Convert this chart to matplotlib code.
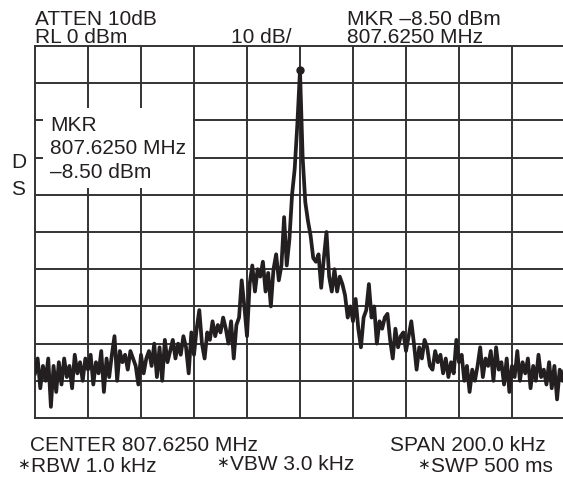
import matplotlib.pyplot as plt
import numpy as np

plt.rcParams['font.family'] = ['Liberation Sans', 'DejaVu Sans']

# Frequency offset from centre (kHz) and trace level (dBm)
freq_khz = np.arange(-100, 101, 1)
level_dbm = [
    -88, -84, -92, -86, -90, -84, -97, -86, -93, -85,   # -100 .. -91
    -91, -84, -89, -86, -92, -83, -88, -85, -90, -84,   # -90 .. -81
    -87, -83, -91, -85, -88, -82, -93, -84, -89, -83,   # -80 .. -71
    -78, -90, -82, -85, -83, -87, -82,                  # -70 .. -64
    -84, -86, -91, -83, -88, -84, -82, -86, -80, -89,   # -63 .. -54
    -81, -90, -79, -85,                                 # -53 .. -50
    -82, -79, -84, -80, -83, -78, -81, -88, -77, -83,   # -49 .. -40
    -76, -71, -80,                                      # -39 .. -37
    -84, -77, -79, -74, -78, -75, -77, -73, -76,        # -36 .. -28
    -80, -74, -84, -75, -73, -63, -70, -78,             # -27 .. -20
    -64, -59, -66, -60, -62, -58, -66, -61, -70, -60,   # -19 .. -10
    -56, -63, -59, -46, -59, -52, -40, -33, -21,        # -9 .. -1
    -6.5,                                               # 0 (marker)
    -30, -42, -47, -51, -57, -58, -56, -65, -57, -50,   # 1 .. 10
    -62, -66, -60, -66, -62, -64, -67, -73, -70, -74,   # 11 .. 20
    -68, -76, -81, -73, -71, -64, -73, -70, -80, -74,   # 21 .. 30
    -76, -73, -72, -79, -84, -76, -81, -78, -77, -82,   # 31 .. 40
    -78, -74, -80, -87, -81, -84, -79, -81, -86, -87,   # 41 .. 50
    -82, -85, -83, -88, -84, -89, -85, -88, -79, -85,   # 51 .. 60
    -83, -90, -86, -93, -87, -90, -86, -81, -89, -84,   # 61 .. 70
    -86, -82, -90, -81, -87, -85, -91, -84, -93, -86,   # 71 .. 80
    -89, -82, -90, -85, -88, -84, -92, -86, -90, -83,   # 81 .. 90
    -89, -87, -91, -85, -92, -86, -95, -87, -90, -86,   # 91 .. 100
]
marker_khz = 0
marker_dbm = -6.5

W, H = 563, 481
fig = plt.figure(figsize=(W / 100, H / 100), dpi=100)
ax = fig.add_axes([35 / W, 1 - 419 / H, 530 / W, 372 / H])

grid_col = '#333333'
ax.set_xlim(-100, 100)
ax.set_ylim(-100, 0)
for x in np.arange(-80, 100, 20):
    ax.axvline(x, color=grid_col, lw=1.4, zorder=1)
for y in np.arange(-90, 0, 10):
    ax.axhline(y, color=grid_col, lw=1.4, zorder=1)
for s in ax.spines.values():
    s.set_color(grid_col)
    s.set_linewidth(1.4)
ax.set_xticks([])
ax.set_yticks([])

ax.plot(freq_khz, level_dbm, color='#231f20', lw=2.7, zorder=3)
ax.plot(marker_khz, marker_dbm, 'o', color='#231f20', ms=5, zorder=4)

fs = 15
ink = '#231f20'
def ftext(x, y, s, size=fs, **kw):
    fig.text(x / W, 1 - y / H, s, fontsize=size, color=ink, va='baseline', **kw)

ftext(35, 25, 'ATTEN 10dB')
ftext(35, 43, 'RL 0 dBm')
ftext(231, 43, '10 dB/')
ftext(347, 25, 'MKR \u20138.50 dBm')
ftext(347, 43, '807.6250 MHz')
ftext(11, 168, 'D')
ftext(11, 195, 'S')

# marker readout box inside the graticule (baseline = last line)
fig.text(50 / W, 1 - 178 / H, 'MKR\n807.6250 MHz\n\u20138.50 dBm', fontsize=fs,
         color=ink, va='baseline', linespacing=1.3, zorder=5,
         bbox=dict(facecolor='white', edgecolor='none', pad=5))

ftext(30, 451, 'CENTER 807.6250 MHz')
ftext(390, 451, 'SPAN 200.0 kHz')
# asterisks are small marks centred at mid height
for x, y in [(17, 469), (216, 467), (417, 469)]:
    ftext(x, y, '\u2217', size=11, family='DejaVu Sans')
ftext(31, 472, 'RBW 1.0 kHz')
ftext(230, 470, 'VBW 3.0 kHz')
ftext(431, 472, 'SWP 500 ms')

fig.savefig('out.png', dpi=100, facecolor='white')
